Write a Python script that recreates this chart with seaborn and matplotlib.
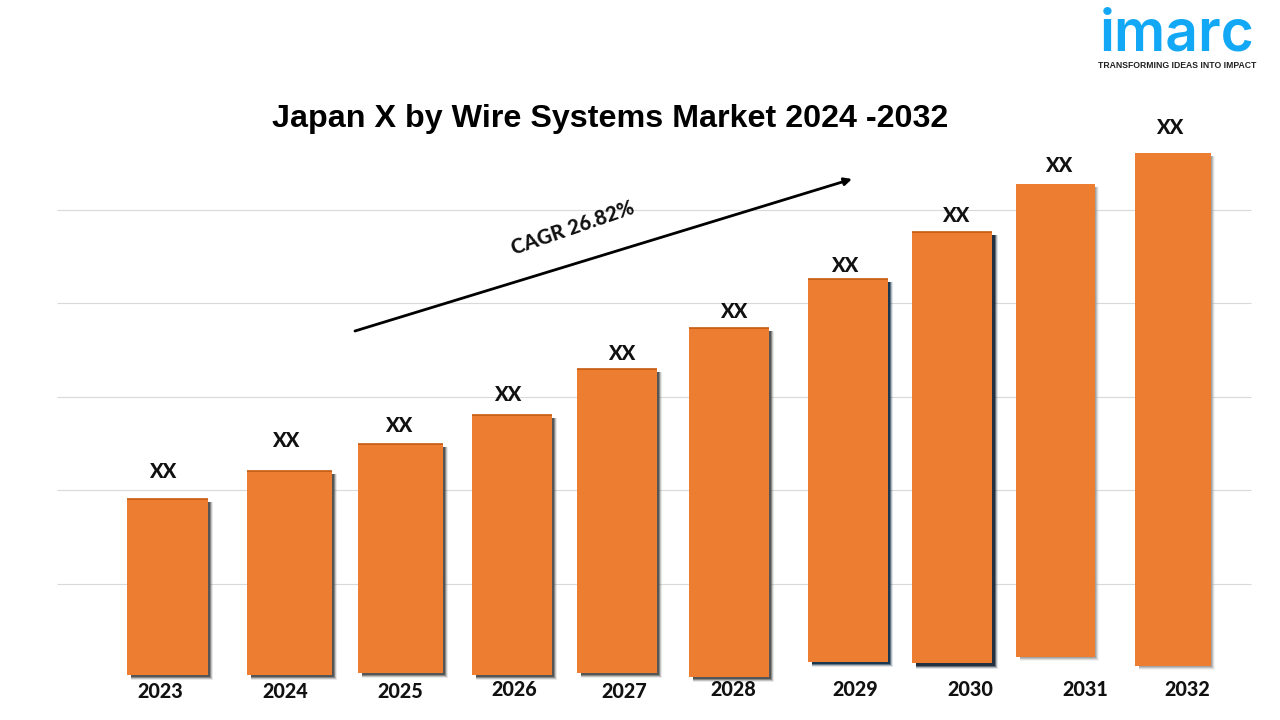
import matplotlib
matplotlib.use("Agg")
import matplotlib.pyplot as plt
import pandas as pd
import seaborn as sns
from matplotlib.patches import Rectangle

# chart values (one gridline step = 20)
years = ["2023", "2024", "2025", "2026", "2027", "2028", "2029", "2030", "2031", "2032"]
values = [38.2, 44.2, 50.0, 56.0, 65.9, 74.7, 85.2, 95.2, 105.6, 112.3]
bar_labels = ["XX"] * 10
gridlines = [20, 40, 60, 80, 100]

# layout in pixels, the bars in the source are placed by hand
bar_left = [127, 247, 358, 472, 577, 689, 808, 912, 1016, 1135]
bar_right = [208, 332, 443, 552, 657, 769, 888, 992, 1095, 1211]
bar_base = [675, 675, 673, 675, 673, 677, 662, 663, 657, 666]
label_x = [163, 286, 399, 508, 622, 734, 845, 956, 1059, 1170]
label_y = [472, 440, 426, 394, 354, 312, 265, 215, 165, 127]
year_x = [160.5, 285.5, 400.5, 514, 624, 733.5, 855, 970.5, 1085, 1187.5]
year_y = [691, 692, 692, 690, 691, 690, 689, 689, 689, 689]
shadow = ["#505050"] * 6 + ["#12324a", "#1b2a3a", "#a0a0a0", "#a0a0a0"]
shadow_size = [2, 2, 2, 2, 2, 2, 2, 3, 1, 1]

ZERO_PX = 677
PX_PER_UNIT = 93.4 / 20
ORANGE = "#ed7d31"
TOP_EDGE = "#c55a11"
LOGO_BLUE = "#12a8f5"


def px_to_value(py):
    return (ZERO_PX - py) / PX_PER_UNIT


sns.set_theme(style="white")
fig = plt.figure(figsize=(12.8, 7.2), dpi=100, facecolor="white")
ax = fig.add_axes([0, 0, 1, 1])

df = pd.DataFrame({"year": years, "value": values})
sns.barplot(data=df, x="year", y="value", color=ORANGE, saturation=1, width=0.8,
            edgecolor="none", linewidth=0, ax=ax, zorder=3)

ax.set_xlim(0, 1280)
ax.set_ylim(px_to_value(720), px_to_value(0))
ax.set_axis_off()

ax.hlines(gridlines, 57, 1251, color="#d9d9d9", lw=0.8, zorder=1)

# move each bar to its place and put a soft offset shadow behind it
for i, bar in enumerate(ax.patches[:len(years)]):
    base = px_to_value(bar_base[i])
    bar.set_x(bar_left[i])
    bar.set_width(bar_right[i] - bar_left[i])
    bar.set_y(base)
    bar.set_height(values[i] - base)
    step = 1 / PX_PER_UNIT
    for extra, alpha in [(3, 0.12), (2, 0.25), (1, 0.5), (0, 0.9)]:
        off = shadow_size[i] + extra
        ax.add_patch(Rectangle((bar_left[i] + 4, base - off * step),
                               bar_right[i] - bar_left[i] - 4 + off,
                               values[i] - base - 3 * step + off * step,
                               color=shadow[i], alpha=alpha, lw=0, zorder=2))
    if i < 8:
        ax.plot([bar_left[i], bar_right[i]], [values[i], values[i]], color=TOP_EDGE, lw=1.2,
                solid_capstyle="butt", zorder=4)

ax.annotate("", xy=(852, px_to_value(179)), xytext=(355, px_to_value(331)),
            arrowprops=dict(arrowstyle="-|>", color="black", lw=2, shrinkA=0, shrinkB=0, mutation_scale=11),
            zorder=5)


def put(x, y, s, **kw):
    fig.text(x / 1280, 1 - y / 720, s, ha="center", va="center", **kw)


put(610.5, 119, "Japan X by Wire Systems Market 2024 -2032", family="Liberation Sans",
    weight="bold", size=23.2, color="black")
put(573, 228, "CAGR 26.82%", family="Lato", weight="black", size=14.6, color="#111111", rotation=19)

for x, y, s in zip(label_x, label_y, bar_labels):
    put(x, y, s, family="Lato", weight="black", size=14.5, color="#111111")
for x, y, s in zip(year_x, year_y, years):
    put(x, y, s, family="Lato", weight="black", size=14.2, color="#111111")

# logo
put(1177, 35.5, "imarc", family="Inter", weight="semibold", size=41, color=LOGO_BLUE)
put(1177, 66, "TRANSFORMING IDEAS INTO IMPACT", family="Liberation Sans", weight="bold", size=6.2, color="#222222")

fig.savefig("out.png", dpi=100)
